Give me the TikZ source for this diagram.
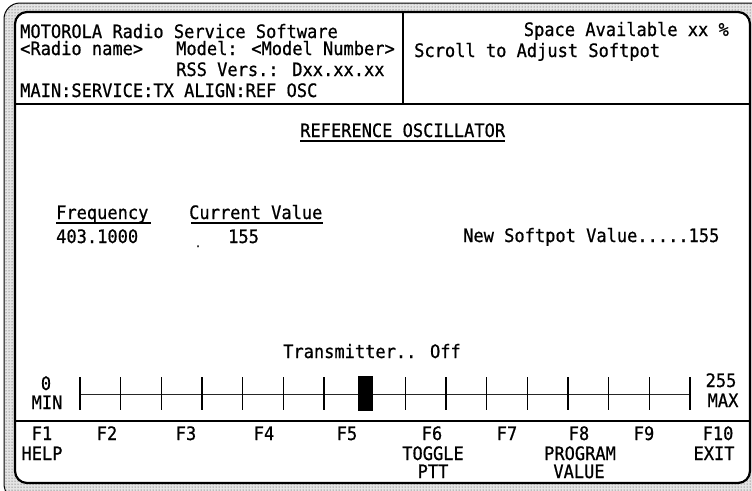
\documentclass[tikz,border=0pt]{standalone}
\usepackage{fontspec}
\newfontfamily\scrfont{DejaVu Sans Mono}[FakeStretch=0.92,FakeBold=0.7]
\usetikzlibrary{patterns,calc}
\begin{document}
\begin{tikzpicture}[x=1pt,y=-1pt,
  txt/.style={anchor=base west, inner sep=0pt, font=\scrfont\fontsize{18.5}{19}\selectfont},
  rtxt/.style={txt, anchor=base east},
  ctxt/.style={txt, anchor=base},
  rule/.style={line width=2.2pt},
  uline/.style={line width=1.3pt},
  tickmark/.style={line width=1.5pt}]
\useasboundingbox (0,0) rectangle (752,490);

% bezel: stippled band round the screen
\begin{scope}
  \clip (0,0) rectangle (752,490);
  \fill[white] (0,0) rectangle (752,490);
  \draw[fill=black!10, line width=1pt, rounded corners=16]
    (4,3) rectangle (768,500);
  \fill[pattern=dots, pattern color=black!80, rounded corners=16]
    (4,3) rectangle (768,500);
\end{scope}

% screen face
\draw[fill=white, rule, rounded corners=12] (15,12) rectangle (750,483);

% header frame
\draw[rule] (403,12) -- (403,104);
\draw[rule] (15,104) -- (750,104);

% header text
\node[txt] (h1) at (20,38) {MOTOROLA Radio Service Software};
\node[txt] (h2) at (20,55) {<Radio name>};
\node[txt] (h3) at (176,55) {Model: <Model Number>};
\node[txt] (h4) at (176,76) {RSS Vers.: Dxx.xx.xx};
\node[txt] (h5) at (20,97) {MAIN:SERVICE:TX ALIGN:REF OSC};
\node[rtxt] (h6) at (729,36) {Space Available xx \%};
\node[txt] (h7) at (414,57) {Scroll to Adjust Softpot};

% body
\node[txt] (title) at (300,137) {REFERENCE OSCILLATOR};
\draw[uline] ([yshift=-4pt]title.base west) -- ([yshift=-4pt]title.base east);

\node[txt] (freqlbl) at (56,219) {Frequency};
\draw[uline] ([yshift=-4pt]freqlbl.base west) -- ([yshift=-4pt,xshift=2pt]freqlbl.base east);
\node[txt] (curlbl) at (189,219) {Current Value};
\draw[uline] ([yshift=-4pt,xshift=2pt]curlbl.base west) -- ([yshift=-4pt]curlbl.base east);

\node[txt] (freq) at (56,243) {403.1000};
\node[txt] (speck) at (195,247) {\fontsize{10}{10}\selectfont .};
\node[txt] (cur) at (228,243) {155};
\node[txt] (newval) at (463,242) {New Softpot Value.....155};

\node[txt] (tx) at (283,358) {Transmitter.. Off};

% softpot slider
\node[ctxt] (zero) at (46,390) {0};
\node[ctxt] (minl) at (47,409) {MIN};
\node[ctxt] (top) at (721,387) {255};
\node[ctxt] (maxl) at (723,407) {MAX};
\coordinate (smin) at (80,394);
\coordinate (smax) at (690,394);
\draw[line width=0.8pt, black!85] (smin) -- (smax);
\foreach \k in {0,...,15} {
  \ifnum\k=7\else
    \draw[tickmark] ($(smin)+(40.67*\k,-17)$) -- ($(smin)+(40.67*\k,16)$);
  \fi
}
\node[fill=black, inner sep=0pt, minimum width=15pt, minimum height=35pt] (knob) at (365,393) {};

\draw[rule] (15,421) -- (750,421);

% function keys
\node[ctxt] (f1) at (42,440) {F1};
\node[ctxt] (f1b) at (42,460) {HELP};
\node[ctxt] (f2) at (107,440) {F2};
\node[ctxt] (f3) at (186,440) {F3};
\node[ctxt] (f4) at (264,440) {F4};
\node[ctxt] (f5) at (347,440) {F5};
\node[ctxt] (f6) at (432,440) {F6};
\node[ctxt] (f6b) at (433,460) {TOGGLE};
\node[ctxt] (f6c) at (433,478) {PTT};
\node[ctxt] (f7) at (507,440) {F7};
\node[ctxt] (f8) at (579,440) {F8};
\node[ctxt] (f8b) at (580,460) {PROGRAM};
\node[ctxt] (f8c) at (579,478) {VALUE};
\node[ctxt] (f9) at (644,440) {F9};
\node[ctxt] (f10) at (718,440) {F10};
\node[ctxt] (f10b) at (714,460) {EXIT};
\end{tikzpicture}
\end{document}
